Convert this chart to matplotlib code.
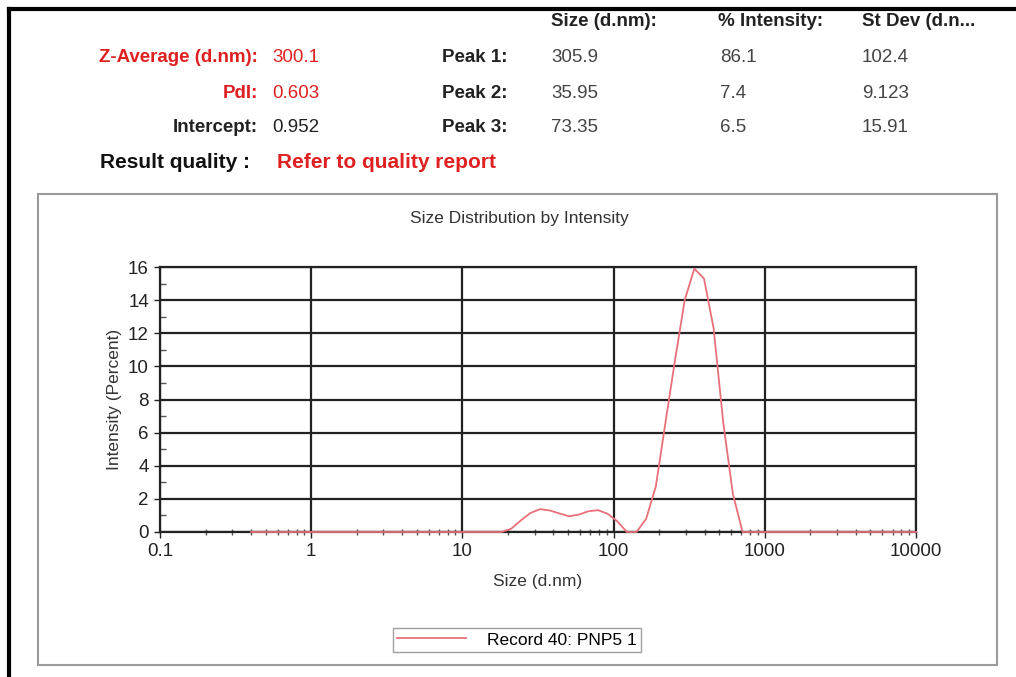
import numpy as np
import matplotlib.pyplot as plt
from matplotlib.patches import Rectangle
from matplotlib.lines import Line2D
from matplotlib.ticker import LogLocator, FixedLocator, NullFormatter

plt.rcParams['font.family'] = ['Liberation Sans', 'DejaVu Sans']

W, H = 1016, 677

# size bins (d.nm) and intensity (%)
sizes = [0.4, 0.4632, 0.5365, 0.6213, 0.7195, 0.8332, 0.9649, 1.117, 1.294, 1.499,
         1.736, 2.010, 2.328, 2.696, 3.122, 3.615, 4.187, 4.849, 5.615, 6.503,
         7.531, 8.721, 10.10, 11.70, 13.54, 15.69, 18.17, 21.04, 24.36, 28.21,
         32.67, 37.84, 43.82, 50.75, 58.77, 68.06, 78.82, 91.28, 105.7, 122.4,
         141.8, 164.2, 190.1, 220.2, 255.0, 295.3, 342.0, 396.1, 458.7, 531.2,
         615.1, 712.4, 825.0, 955.4, 1106, 1281, 1484, 1718, 1990, 2305,
         2669, 3091, 3580, 4145, 4801, 5560, 6439, 7456, 8635, 10000]
intensity = [0.0] * 27 + [0.2, 0.7, 1.15, 1.38, 1.3, 1.12, 0.95, 1.05, 1.25,
                          1.32, 1.1, 0.65, 0.0, 0.0, 0.8, 2.74, 6.6, 10.4, 14.0,
                          15.9, 15.3, 12.3, 6.6, 2.3, 0.0] + [0.0] * 18

summary_labels = ['Z-Average (d.nm):', 'PdI:', 'Intercept:']
summary_values = ['300.1', '0.603', '0.952']
summary_colors = ['#e02020', '#e02020', '#222222']

peak_header = ['Size (d.nm):', '% Intensity:', 'St Dev (d.n...']
peak_names = ['Peak 1:', 'Peak 2:', 'Peak 3:']
peak_size = ['305.9', '35.95', '73.35']
peak_int = ['86.1', '7.4', '6.5']
peak_sd = ['102.4', '9.123', '15.91']

record = 'Record 40: PNP5 1'
line_color = '#e8707a'


def fx(x):
    return x / W


def fy(y):
    return 1 - y / H


fig = plt.figure(figsize=(W / 100, H / 100), dpi=100)

# outer frame and panel box
fig.add_artist(Line2D([fx(9), fx(9)], [fy(9), 0], color='black', lw=3))
fig.add_artist(Line2D([fx(9), 1], [fy(9), fy(9)], color='black', lw=3))
fig.add_artist(Rectangle((fx(38), fy(665)), fx(997 - 38), (665 - 194) / H,
                         fill=False, edgecolor='#9a9a9a', lw=1.5))

# header text
fs = 13.5
for i, (lab, val, col) in enumerate(zip(summary_labels, summary_values, summary_colors)):
    y = fy(58 + 35 * i)
    fig.text(fx(258), y, lab, ha='right', va='center', fontsize=fs,
             fontweight='bold', color=col)
    fig.text(fx(272), y, val, ha='left', va='center', fontsize=fs, color=col)

fig.text(fx(250), fy(163), 'Result quality :', ha='right', va='center',
         fontsize=15, fontweight='bold', color='#111111')
fig.text(fx(277), fy(163), 'Refer to quality report', ha='left', va='center',
         fontsize=15, fontweight='bold', color='#e02020')

cols = [551, 718, 862]
for x, h in zip(cols, peak_header):
    fig.text(fx(x), fy(22), h, ha='left', va='center', fontsize=fs,
             fontweight='bold', color='#222222')
for i in range(3):
    y = fy(58 + 35 * i)
    fig.text(fx(508), y, peak_names[i], ha='right', va='center', fontsize=fs,
             fontweight='bold', color='#222222')
    for x, v in zip([551, 720, 862], [peak_size[i], peak_int[i], peak_sd[i]]):
        fig.text(fx(x), y, v, ha='left', va='center', fontsize=fs, color='#444444')

# chart
ax = fig.add_axes([fx(160), fy(532), fx(916 - 160), (532 - 267) / H])
ax.plot(sizes, intensity, color=line_color, lw=1.3, zorder=3, clip_on=False)
ax.set_xscale('log')
ax.set_xlim(0.1, 10000)
ax.set_ylim(0, 16)
ax.set_xticks([0.1, 1, 10, 100, 1000, 10000])
ax.set_xticklabels(['0.1', '1', '10', '100', '1000', '10000'])
ax.xaxis.set_minor_locator(LogLocator(base=10, subs=np.arange(2, 10)))
ax.xaxis.set_minor_formatter(NullFormatter())
ax.set_yticks(np.arange(0, 17, 2))
ax.yaxis.set_minor_locator(FixedLocator(np.arange(1, 16, 2)))
ax.grid(True, which='major', color='#222222', lw=1.6)
ax.tick_params(axis='both', which='major', length=4, width=1, labelsize=13.5,
               colors='#222222', pad=4)
ax.tick_params(axis='x', which='minor', direction='inout', length=5, width=1,
               color='#555555')
ax.tick_params(axis='y', which='minor', direction='in', length=4, width=1,
               color='#555555')
for s in ax.spines.values():
    s.set_color('#222222')
    s.set_linewidth(1.6)

ax.set_xlabel('Size (d.nm)', fontsize=12.5, color='#333333', labelpad=10)
ax.set_ylabel('Intensity (Percent)', fontsize=12.5, color='#333333', labelpad=4)
fig.text(fx(519), fy(219), 'Size Distribution by Intensity', ha='center',
         va='center', fontsize=12.5, color='#333333')

handle = Line2D([], [], color=line_color, lw=1.3)
fig.legend([handle], [record], loc='center', bbox_to_anchor=(fx(517), fy(640)),
           fontsize=12.5, frameon=True, fancybox=False, edgecolor='#888888',
           handlelength=4.0, borderpad=0.25, handletextpad=1.2)

fig.savefig('out.png', dpi=100)
